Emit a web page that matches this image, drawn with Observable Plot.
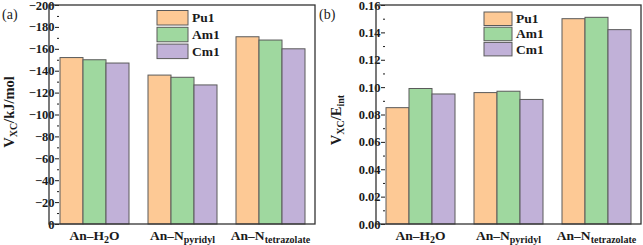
<!DOCTYPE html>
<html>
<head>
<meta charset="utf-8">
<script src="https://cdn.jsdelivr.net/npm/d3@7"></script>
<script src="https://cdn.jsdelivr.net/npm/@observablehq/plot@0.6"></script>
<style>
  html, body { margin: 0; padding: 0; background: #fff; }
  #wrap { position: relative; width: 643px; height: 245px; overflow: hidden; background: #fff; }
  #wrap svg { position: absolute; top: 0; }
</style>
</head>
<body>
<div id="wrap"></div>
<script>
// ---- data ----
const categories = ["An–H2O", "An–Npyridyl", "An–Ntetrazolate"];
const catMain = ["An–H", "An–N", "An–N"];
const catSub = ["2", "pyridyl", "tetrazolate"];
const catTail = ["O", "", ""];
const series = ["Pu1", "Am1", "Cm1"];
const colors = ["#fdc995", "#9fd89f", "#c1b1d8"];

// panel (a): V_XC (kJ/mol)
const vxcPu1 = [-152, -136, -171];
const vxcAm1 = [-150, -134, -168];
const vxcCm1 = [-147, -127, -160];
const yTicksA = [0, -20, -40, -60, -80, -100, -120, -140, -160, -180, -200];
const yMinorA = [-10, -30, -50, -70, -90, -110, -130, -150, -170, -190];

// panel (b): V_XC / E_int
const ratioPu1 = [0.085, 0.096, 0.150];
const ratioAm1 = [0.099, 0.097, 0.151];
const ratioCm1 = [0.095, 0.091, 0.142];
const yTicksB = [0, 0.02, 0.04, 0.06, 0.08, 0.10, 0.12, 0.14, 0.16];
const yMinorB = [0.01, 0.03, 0.05, 0.07, 0.09, 0.11, 0.13, 0.15];

function rowsOf(arrs) {
  const rows = [];
  categories.forEach((c, i) => series.forEach((s, j) => rows.push({cat: c, series: s, value: arrs[j][i]})));
  return rows;
}

const FONT = "'Liberation Serif', 'Times New Roman', serif";

function panel(cfg) {
  const plot = Plot.plot({
    width: cfg.width,
    height: 245,
    marginTop: 5,
    marginBottom: 21,
    marginLeft: cfg.marginLeft,
    marginRight: cfg.marginRight,
    style: {fontFamily: FONT, fontWeight: "bold", fontSize: "12.5px", color: "#1a1a1a", background: "transparent", overflow: "visible"},
    fx: {domain: categories, paddingInner: 0.2, paddingOuter: 0.1, label: null},
    x: {domain: series, padding: 0, axis: null},
    y: {domain: cfg.yDomain, label: null},
    color: {domain: series, range: colors},
    marks: [
      Plot.barY(rowsOf(cfg.values), {fx: "cat", x: "series", y: "value", fill: "series", stroke: "#5a5a5a", strokeWidth: 1}),
      Plot.axisY({ticks: cfg.minor, tickSize: 2, tickFormat: () => "", label: null}),
      Plot.axisY({ticks: cfg.major, tickSize: 4, tickPadding: 1, tickFormat: cfg.tickFormat, label: null}),
      Plot.axisFx({anchor: "bottom", tickSize: 0, tickPadding: 6, fontSize: 13.5, label: null, tickFormat: d => d})
    ]
  });
  plot.style.left = cfg.left + "px";
  const svg = d3.select(plot);
  // frame around the plot area
  const fxr = plot.scale("fx").range;
  const yr = plot.scale("y").range;
  svg.append("rect")
    .attr("x", fxr[0]).attr("y", Math.min(...yr))
    .attr("width", fxr[1] - fxr[0]).attr("height", Math.abs(yr[0] - yr[1]))
    .attr("fill", "none").attr("stroke", "#333").attr("stroke-width", 1.3);
  // subscripted fx tick labels
  svg.selectAll("text").each(function() {
    const t = this.textContent;
    const i = categories.indexOf(t);
    if (i < 0) return;
    const el = d3.select(this);
    el.text(null);
    el.append("tspan").text(catMain[i]);
    el.append("tspan").attr("dy", 3).attr("font-size", 10).text(catSub[i]);
    if (catTail[i]) el.append("tspan").attr("dy", -3).text(catTail[i]);
  });
  // y label
  const yl = svg.append("text")
    .attr("transform", `translate(${cfg.ylabelX},${cfg.ylabelY}) rotate(-90)`)
    .attr("text-anchor", "middle").attr("font-size", 14.5).attr("font-weight", "bold").attr("fill", "#1a1a1a");
  yl.append("tspan").text("V");
  yl.append("tspan").attr("dy", 3).attr("font-size", 10).text("XC");
  yl.append("tspan").attr("dy", -3).text("/" + cfg.ylabelRest[0]);
  if (cfg.ylabelRest[1]) yl.append("tspan").attr("dy", 3).attr("font-size", 10).text(cfg.ylabelRest[1]);
  // panel letter
  svg.append("text").attr("x", cfg.letterX).attr("y", 19).attr("text-anchor", "start")
    .attr("font-size", 14).attr("font-weight", "normal").attr("fill", "#222").text(cfg.letter);
  // legend using the color scale
  const color = plot.scale("color");
  const lg = svg.append("g").attr("text-anchor", "start");
  color.domain.forEach((s, k) => {
    const y = cfg.legY + k * cfg.legStep;
    lg.append("rect").attr("x", cfg.legX).attr("y", y).attr("width", cfg.legW).attr("height", cfg.legH)
      .attr("fill", color.range[k]).attr("stroke", "#5a5a5a").attr("stroke-width", 1);
    lg.append("text").attr("x", cfg.legX + cfg.legW + 4).attr("y", y + cfg.legH / 2 + 4.5)
      .attr("font-size", 13.5).attr("font-weight", "bold").attr("fill", "#1a1a1a").text(s);
  });
  return plot;
}

const wrap = document.getElementById("wrap");
wrap.append(panel({
  left: 0, width: 318, marginLeft: 49, marginRight: 3,
  values: [vxcPu1, vxcAm1, vxcCm1], yDomain: [0, -200],
  major: yTicksA, minor: yMinorA, tickFormat: d => d === 0 ? "0" : "−" + Math.abs(d),
  ylabelX: 14, ylabelY: 112, ylabelRest: ["kJ/mol", ""],
  letter: "(a)", letterX: 2,
  legX: 157, legY: 10.5, legW: 31, legH: 14.5, legStep: 16.8
}));
wrap.append(panel({
  left: 318, width: 325, marginLeft: 58, marginRight: 2,
  values: [ratioPu1, ratioAm1, ratioCm1], yDomain: [0, 0.16],
  major: yTicksB, minor: yMinorB, tickFormat: d3.format(".2f"),
  ylabelX: 23, ylabelY: 120, ylabelRest: ["E", "int"],
  letter: "(b)", letterX: 1,
  legX: 166, legY: 12, legW: 28, legH: 13.5, legStep: 15.2
}));
</script>
</body>
</html>
